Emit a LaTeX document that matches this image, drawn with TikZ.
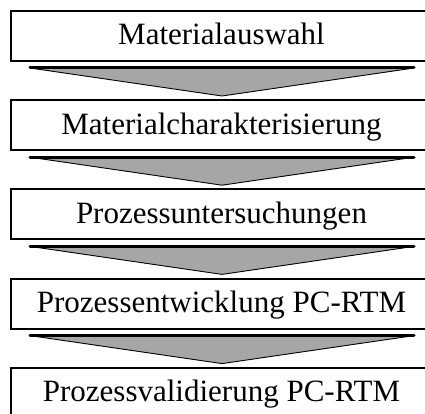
\documentclass[tikz,border=0pt]{standalone}
\usepackage{fontspec}
\setmainfont{Liberation Serif}
\usetikzlibrary{calc}
\definecolor{chevgray}{HTML}{A6A6A6}
\begin{document}
\begin{tikzpicture}[x=1pt,y=-1pt,
  stage/.style={draw, line width=2pt, fill=white, minimum width=421pt,
    minimum height=50pt, inner sep=0pt, text height=23pt, text depth=5pt,
    font=\fontsize{31}{36}\selectfont},
  chevfill/.style={fill=chevgray, draw=black, line width=0.9pt, line join=miter},
  chevtop/.style={draw=black, line width=3pt, line cap=round}]
\useasboundingbox (0,0) rectangle (425,414);
\clip (0,0) rectangle (425,414);
\node[stage] (b1) at (221.5,36)    {Materialauswahl};
\node[stage] (b2) at (221.5,125.2) {Materialcharakterisierung};
\node[stage] (b3) at (221.5,214.4) {Prozessuntersuchungen};
\node[stage] (b4) at (221.5,303.6) {Prozessentwicklung PC-RTM};
\node[stage] (b5) at (221.5,392.8) {Prozessvalidierung PC-RTM};
\foreach \i in {1,2,3,4}{
  \coordinate (l\i) at ($(b\i.south west)+(20,6)$);
  \coordinate (r\i) at ($(b\i.south east)+(-19,6)$);
  \coordinate (a\i) at ($(b\i.south)+(0.5,34)$);
  \draw[chevfill] (l\i) -- (r\i) -- (a\i) -- cycle;
  \draw[chevtop] (l\i) -- (r\i);
}
\end{tikzpicture}
\end{document}
